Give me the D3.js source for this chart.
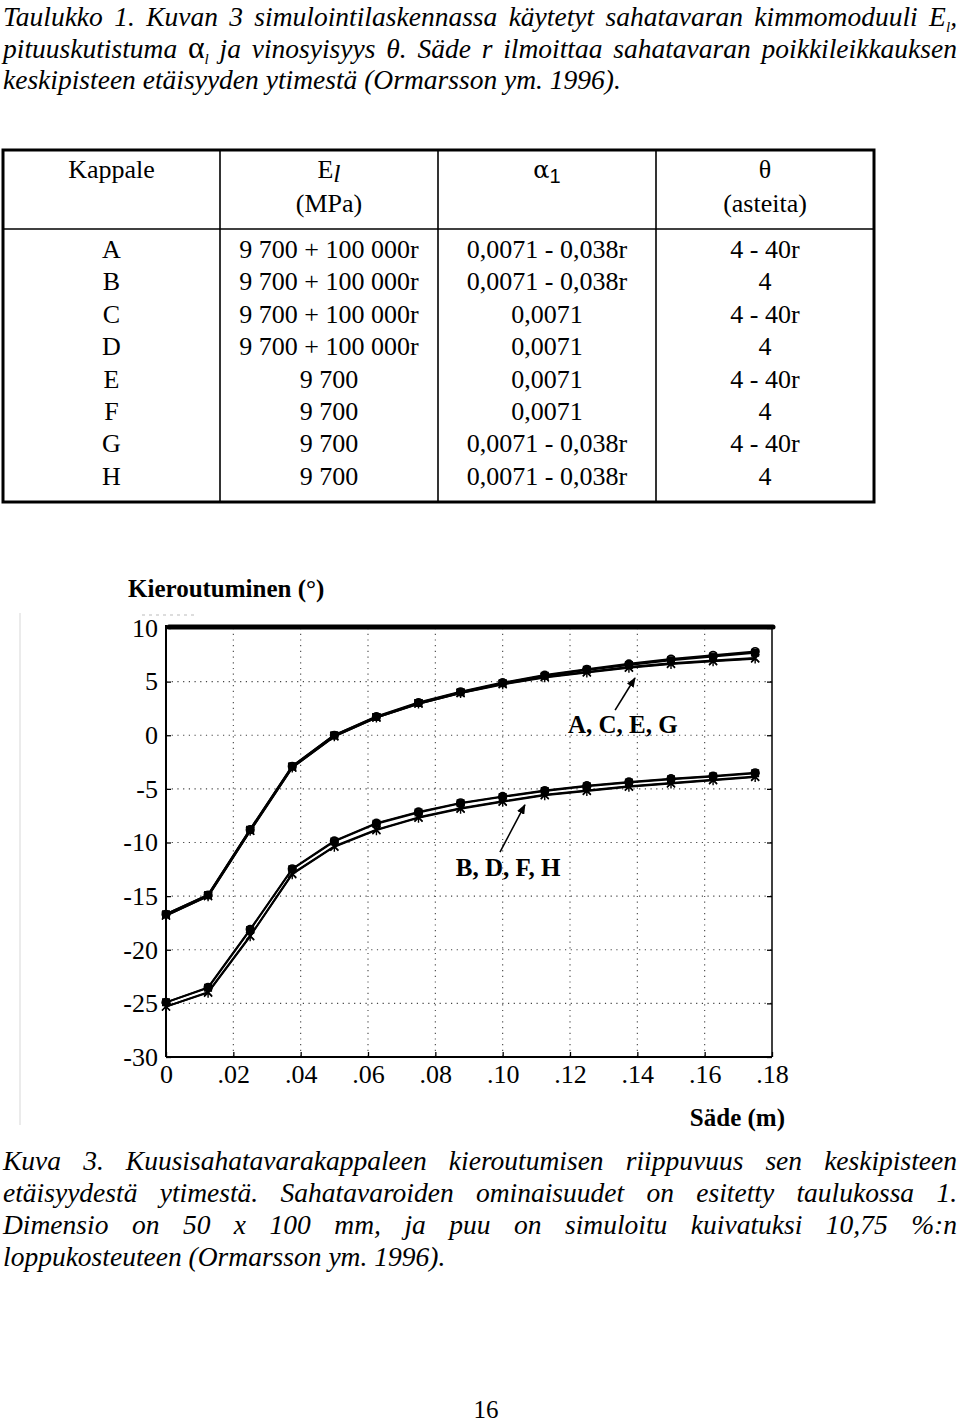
<!DOCTYPE html>
<html>
<head>
<meta charset="utf-8">
<script src="https://cdn.jsdelivr.net/npm/d3@7"></script>
<style>
  html, body { margin: 0; padding: 0; background: #fff; }
  svg { display: block; }
</style>
</head>
<body>
<script>
// ---------------- DATA ----------------
const titleLines = [
  "Taulukko 1. Kuvan 3 simulointilaskennassa käytetyt sahatavaran kimmomoduuli E_l,",
  "pituuskutistuma α_l ja vinosyisyys θ. Säde r ilmoittaa sahatavaran poikkileikkauksen",
  "keskipisteen etäisyyden ytimestä (Ormarsson ym. 1996)."
];
const captionLines = [
  "Kuva 3. Kuusisahatavarakappaleen kieroutumisen riippuvuus sen keskipisteen",
  "etäisyydestä ytimestä. Sahatavaroiden ominaisuudet on esitetty taulukossa 1.",
  "Dimensio on 50 x 100 mm, ja puu on simuloitu kuivatuksi 10,75 %:n",
  "loppukosteuteen (Ormarsson ym. 1996)."
];
const pageNumber = "16";

const tableKappale = ["A", "B", "C", "D", "E", "F", "G", "H"];
const tableE = ["9 700 + 100 000r", "9 700 + 100 000r", "9 700 + 100 000r", "9 700 + 100 000r",
                "9 700", "9 700", "9 700", "9 700"];
const tableAlpha = ["0,0071 - 0,038r", "0,0071 - 0,038r", "0,0071", "0,0071",
                    "0,0071", "0,0071", "0,0071 - 0,038r", "0,0071 - 0,038r"];
const tableTheta = ["4 - 40r", "4", "4 - 40r", "4", "4 - 40r", "4", "4 - 40r", "4"];

const radius = [0, 0.0125, 0.025, 0.0375, 0.05, 0.0625, 0.075, 0.0875, 0.1, 0.1125, 0.125, 0.1375, 0.15, 0.1625, 0.175];

// upper group (A, C, E, G)
const seriesA = [-16.7, -14.9, -8.8, -2.9, 0.0, 1.75, 3.05, 4.05, 4.9, 5.6, 6.15, 6.65, 7.1, 7.45, 7.8];
const seriesC = [-16.7, -14.9, -8.8, -2.9, 0.0, 1.7, 3.0, 4.0, 4.85, 5.55, 6.1, 6.55, 7.0, 7.35, 7.7];
const seriesE = [-16.8, -15.0, -8.9, -3.0, -0.1, 1.65, 2.95, 3.95, 4.8, 5.45, 5.9, 6.35, 6.7, 6.95, 7.2];
const seriesG = [-16.8, -15.0, -8.9, -3.0, -0.1, 1.65, 2.95, 3.95, 4.75, 5.4, 5.85, 6.3, 6.65, 6.9, 7.15];
// lower group (B, D, F, H)
const seriesB = [-24.9, -23.5, -18.1, -12.45, -9.85, -8.2, -7.15, -6.3, -5.7, -5.15, -4.7, -4.35, -4.05, -3.8, -3.5];
const seriesD = [-24.9, -23.55, -18.15, -12.5, -9.9, -8.25, -7.2, -6.35, -5.75, -5.2, -4.75, -4.4, -4.1, -3.85, -3.55];
const seriesF = [-25.3, -23.95, -18.7, -12.9, -10.35, -8.8, -7.65, -6.8, -6.15, -5.55, -5.15, -4.75, -4.45, -4.15, -3.85];
const seriesH = [-25.3, -24.0, -18.75, -12.95, -10.4, -8.85, -7.7, -6.85, -6.2, -5.6, -5.2, -4.8, -4.5, -4.2, -3.9];

const seriesNames = ["A", "C", "E", "G", "B", "D", "F", "H"];
const seriesSymbols = ["circle", "square", "x", "asterisk", "circle", "square", "x", "asterisk"];

const xTickValues = [0, 0.02, 0.04, 0.06, 0.08, 0.10, 0.12, 0.14, 0.16, 0.18];
const xTickLabels = ["0", ".02", ".04", ".06", ".08", ".10", ".12", ".14", ".16", ".18"];
const yTickValues = [10, 5, 0, -5, -10, -15, -20, -25, -30];
const yTickLabels = ["10", "5", "0", "-5", "-10", "-15", "-20", "-25", "-30"];

const yAxisTitle = "Kieroutuminen (°)";
const xAxisTitle = "Säde (m)";
// annotation anchors in data units: [label, textR, textV, tailR, tailV, tipR, tipV]
const annotations = [
  ["A, C, E, G", 0.1194, 0.21, 0.1334, 2.35, 0.1393, 5.34],
  ["B, D, F, H", 0.0861, -13.12, 0.0992, -10.89, 0.1066, -6.50]
];

// ---------------- DRAW ----------------
const W = 960, H = 1424;
const svg = d3.select("body").append("svg").attr("width", W).attr("height", H);
svg.append("rect").attr("width", W).attr("height", H).attr("fill", "#fff");

const serif = "'Liberation Serif', 'Times New Roman', serif";

function appendPlain(t, p) {
  let buf = "";
  for (const ch of p) {
    if (ch === "α") {
      if (buf) { t.append("tspan").text(buf); buf = ""; }
      t.append("tspan").attr("font-style", "normal").attr("font-size", "1.15em").text(ch);
    } else buf += ch;
  }
  if (buf) t.append("tspan").text(buf);
}

// justified text helper
function drawLine(g, str, y, x0, x1, justify, size, italic) {
  const words = str.split(" ");
  const nodes = words.map(w => {
    const t = g.append("text").attr("y", y)
      .attr("font-family", serif).attr("font-size", size)
      .attr("font-style", italic ? "italic" : "normal").attr("fill", "#000");
    const parts = w.split("_");
    parts.forEach((p, i) => {
      if (i === 0) {
        appendPlain(t, p);
      } else {
        t.append("tspan").attr("font-size", size * 0.55).attr("dy", 6).text(p[0]);
        const rest = p.slice(1);
        if (rest.length) t.append("tspan").attr("dy", -6).text(rest);
      }
    });
    return t;
  });
  const widths = nodes.map(n => n.node().getComputedTextLength());
  const sum = d3.sum(widths);
  const gap = (justify && words.length > 1) ? (x1 - x0 - sum) / (words.length - 1) : size * 0.25;
  let x = x0;
  nodes.forEach((n, i) => { n.attr("x", x); x += widths[i] + gap; });
}

const txtSize = 27.5;
const gTitle = svg.append("g");
titleLines.forEach((l, i) => drawLine(gTitle, l, 26 + i * 31.5, 3, 957, i < 2, txtSize, true));

const gCap = svg.append("g");
captionLines.forEach((l, i) => drawLine(gCap, l, 1170 + i * 32, 3, 957, i < 3, txtSize, true));

svg.append("text").attr("x", 486).attr("y", 1418).attr("text-anchor", "middle")
  .attr("font-family", serif).attr("font-size", 25).text(pageNumber);

// ---------------- TABLE ----------------
const tb = svg.append("g");
const tX0 = 3, tX1 = 874, tY0 = 150, tY1 = 502, hdrY = 229;
const colX = [tX0, 220, 438, 656, tX1];
const colC = [0, 1, 2, 3].map(i => (colX[i] + colX[i + 1]) / 2);
tb.append("rect").attr("x", tX0).attr("y", tY0).attr("width", tX1 - tX0).attr("height", tY1 - tY0)
  .attr("fill", "none").attr("stroke", "#000").attr("stroke-width", 3);
[1, 2, 3].forEach(i => tb.append("line").attr("x1", colX[i]).attr("x2", colX[i])
  .attr("y1", tY0).attr("y2", tY1).attr("stroke", "#000").attr("stroke-width", 1.6));
tb.append("line").attr("x1", tX0).attr("x2", tX1).attr("y1", hdrY).attr("y2", hdrY)
  .attr("stroke", "#000").attr("stroke-width", 1.6);

const tfs = 26;
function cell(x, y, txt) {
  return tb.append("text").attr("x", x).attr("y", y).attr("text-anchor", "middle")
    .attr("font-family", serif).attr("font-size", tfs).attr("fill", "#000").text(txt);
}
cell(colC[0], 178, "Kappale");
const eh = tb.append("text").attr("x", colC[1]).attr("y", 178).attr("text-anchor", "middle")
  .attr("font-family", serif).attr("font-size", tfs);
eh.append("tspan").text("E");
eh.append("tspan").attr("font-style", "italic").attr("dy", 4).text("l");
cell(colC[1], 212, "(MPa)");
const ah = tb.append("text").attr("x", colC[2]).attr("y", 178).attr("text-anchor", "middle")
  .attr("font-family", serif).attr("font-size", tfs);
ah.append("tspan").attr("font-family", "'DejaVu Serif', serif").attr("font-size", 24).text("α");
ah.append("tspan").attr("font-family", "'Liberation Sans', sans-serif").attr("font-size", 20).attr("dy", 5).text("1");
cell(colC[3], 178, "θ");
cell(colC[3], 212, "(asteita)");

tableKappale.forEach((k, i) => {
  const y = 258 + i * 32.4;
  cell(colC[0], y, k);
  cell(colC[1], y, tableE[i]);
  cell(colC[2], y, tableAlpha[i]);
  cell(colC[3], y, tableTheta[i]);
});

// ---------------- CHART ----------------
const x = d3.scaleLinear().domain([0, 0.18]).range([166, 772]);
const y = d3.scaleLinear().domain([-30, 10]).range([1057, 628]);

const ch = svg.append("g");

// faint scan artifacts
ch.append("line").attr("x1", 20).attr("x2", 20).attr("y1", 613).attr("y2", 1125)
  .attr("stroke", "#e4e4e4").attr("stroke-width", 1.5);
ch.append("line").attr("x1", 142).attr("x2", 198).attr("y1", 615).attr("y2", 615)
  .attr("stroke", "#bbb").attr("stroke-width", 1).attr("stroke-dasharray", "3,4");

// grid
const grid = ch.append("g").attr("stroke", "#444").attr("stroke-width", 1.1)
  .attr("stroke-dasharray", "1.2,4.5");
xTickValues.filter(v => v > 0 && v < 0.18).forEach(v =>
  grid.append("line").attr("x1", x(v)).attr("x2", x(v)).attr("y1", y(10)).attr("y2", y(-30)));
yTickValues.filter(v => v > -30 && v < 10).forEach(v =>
  grid.append("line").attr("x1", x(0)).attr("x2", x(0.18)).attr("y1", y(v)).attr("y2", y(v)));

// axes
const yAxis = d3.axisLeft(y).tickValues(yTickValues)
  .tickFormat((d, i) => yTickLabels[i]).tickSize(-5).tickPadding(8);
const gy = ch.append("g").attr("transform", `translate(${x(0)},0)`).call(yAxis);
const xAxis = d3.axisBottom(x).tickValues(xTickValues)
  .tickFormat((d, i) => xTickLabels[i]).tickSize(-5).tickPadding(8);
const gx = ch.append("g").attr("transform", `translate(0,${y(-30)})`).call(xAxis);
const yAxisR = d3.axisRight(y).tickValues(yTickValues).tickFormat("").tickSize(-5);
const gyr = ch.append("g").attr("transform", `translate(${x(0.18)},0)`).call(yAxisR);
[gy, gx, gyr].forEach(g => {
  g.select(".domain").remove();
  g.selectAll(".tick line").attr("stroke", "#000").attr("stroke-width", 1.3);
  g.selectAll("text").attr("font-family", serif).attr("font-size", 26).attr("fill", "#000");
});
gyr.selectAll("text").remove();

// frame
ch.append("line").attr("x1", x(0)).attr("x2", x(0)).attr("y1", y(10) - 3).attr("y2", y(-30))
  .attr("stroke", "#000").attr("stroke-width", 2);
ch.append("line").attr("x1", x(0)).attr("x2", x(0.18)).attr("y1", y(-30)).attr("y2", y(-30))
  .attr("stroke", "#000").attr("stroke-width", 2);
ch.append("line").attr("x1", x(0.18)).attr("x2", x(0.18)).attr("y1", y(10)).attr("y2", y(-30))
  .attr("stroke", "#000").attr("stroke-width", 1.5);
ch.append("line").attr("x1", x(0) + 3).attr("x2", x(0.18) + 1).attr("y1", y(10) - 1).attr("y2", y(10) - 1)
  .attr("stroke", "#000").attr("stroke-width", 5).attr("stroke-linecap", "round");

// series
const allSeries = [seriesA, seriesC, seriesE, seriesG, seriesB, seriesD, seriesF, seriesH];
const line = d3.line().x((d, i) => x(radius[i])).y(d => y(d));
const gl = ch.append("g");
allSeries.forEach((s, k) => {
  gl.append("path").attr("d", line(s)).attr("fill", "none").attr("stroke", "#000")
    .attr("stroke-width", k < 4 ? 2.2 : 1.9).attr("stroke-linejoin", "round");
});
const symPath = {
  circle: "M0,-3.8A3.8,3.8 0 1,1 0,3.8A3.8,3.8 0 1,1 0,-3.8Z",
  square: "M-3.3,-3.3H3.3V3.3H-3.3Z",
  x: "M-4,-4L4,4M-4,4L4,-4",
  asterisk: "M-4,-4L4,4M-4,4L4,-4M0,-5V5"
};
allSeries.forEach((s, k) => {
  const type = seriesSymbols[k];
  gl.append("g").selectAll("path").data(s).join("path")
    .attr("transform", (d, i) => `translate(${x(radius[i])},${y(d)})`)
    .attr("d", symPath[type])
    .attr("fill", type === "square" ? "#000" : "none")
    .attr("stroke", "#000").attr("stroke-width", type === "circle" ? 1.6 : 1.4);
});

// annotations
const defs = svg.append("defs");
defs.append("marker").attr("id", "ah").attr("viewBox", "0 0 10 8").attr("refX", 9).attr("refY", 4)
  .attr("markerWidth", 10).attr("markerHeight", 8).attr("markerUnits", "userSpaceOnUse")
  .attr("orient", "auto").append("path").attr("d", "M0,0L10,4L0,8Z").attr("fill", "#000");
annotations.forEach(a => {
  ch.append("line").attr("x1", x(a[3])).attr("y1", y(a[4])).attr("x2", x(a[5])).attr("y2", y(a[6]))
    .attr("stroke", "#000").attr("stroke-width", 1.6).attr("marker-end", "url(#ah)");
  ch.append("text").attr("x", x(a[1])).attr("y", y(a[2]))
    .attr("font-family", serif).attr("font-weight", "bold").attr("font-size", 25).text(a[0]);
});

// axis titles
ch.append("text").attr("x", 128).attr("y", 597).attr("font-family", serif)
  .attr("font-weight", "bold").attr("font-size", 25).text(yAxisTitle);
ch.append("text").attr("x", 785).attr("y", 1126).attr("text-anchor", "end").attr("font-family", serif)
  .attr("font-weight", "bold").attr("font-size", 25).text(xAxisTitle);
</script>
</body>
</html>
